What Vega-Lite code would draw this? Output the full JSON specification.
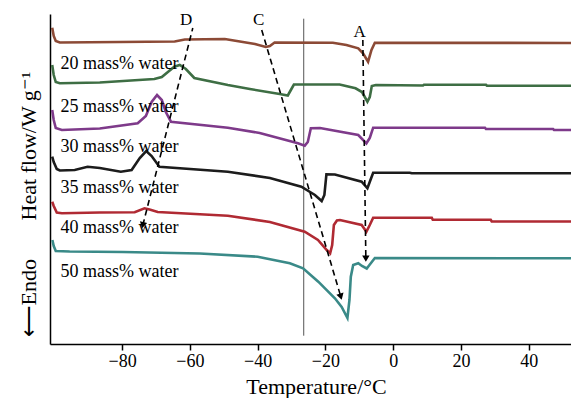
{
  "$schema": "https://vega.github.io/schema/vega-lite/v6.json",
  "autosize": "none",
  "width": 521,
  "height": 330,
  "padding": {"left": 50, "top": 14, "right": 0, "bottom": 54},
  "config": {"view": {"stroke": null}, "font": "Liberation Serif"},
  "datasets": {
    "curves": [
      {"s": "20", "t": -100.65, "h": 316.3}, {"s": "20", "t": -100.2, "h": 308}, {"s": "20", "t": -99.6, "h": 303}, {"s": "20", "t": -98.4, "h": 301.5}, {"s": "20", "t": -80.7, "h": 302}, {"s": "20", "t": -64.5, "h": 302.5}, {"s": "20", "t": -61.5, "h": 304.5}, {"s": "20", "t": -49.7, "h": 305}, {"s": "20", "t": -40.8, "h": 300}, {"s": "20", "t": -37.6, "h": 297}, {"s": "20", "t": -36.4, "h": 298}, {"s": "20", "t": -35.0, "h": 301.5}, {"s": "20", "t": -17.8, "h": 301.3}, {"s": "20", "t": -13.8, "h": 299}, {"s": "20", "t": -10.3, "h": 295.7}, {"s": "20", "t": -8.9, "h": 290.7}, {"s": "20", "t": -7.4, "h": 282.3}, {"s": "20", "t": -6.4, "h": 294}, {"s": "20", "t": -5.4, "h": 301.3}, {"s": "20", "t": 52.5, "h": 301},

      {"s": "25", "t": -100.65, "h": 279}, {"s": "25", "t": -100.2, "h": 269}, {"s": "25", "t": -99.6, "h": 262}, {"s": "25", "t": -98.4, "h": 260.7}, {"s": "25", "t": -86.6, "h": 261.5}, {"s": "25", "t": -70.5, "h": 265}, {"s": "25", "t": -68.3, "h": 267}, {"s": "25", "t": -66.5, "h": 272}, {"s": "25", "t": -64.6, "h": 277.3}, {"s": "25", "t": -63.0, "h": 279}, {"s": "25", "t": -61.2, "h": 275}, {"s": "25", "t": -58.7, "h": 266}, {"s": "25", "t": -48.8, "h": 259}, {"s": "25", "t": -42.3, "h": 255}, {"s": "25", "t": -33.5, "h": 250}, {"s": "25", "t": -31.1, "h": 248.5}, {"s": "25", "t": -30.2, "h": 254}, {"s": "25", "t": -29.3, "h": 259.5}, {"s": "25", "t": -15.8, "h": 259.5}, {"s": "25", "t": -11.1, "h": 255.7}, {"s": "25", "t": -9.2, "h": 252}, {"s": "25", "t": -7.6, "h": 242.3}, {"s": "25", "t": -6.9, "h": 247}, {"s": "25", "t": -6.3, "h": 258}, {"s": "25", "t": -5.1, "h": 259}, {"s": "25", "t": 8.8, "h": 258.5}, {"s": "25", "t": 9.1, "h": 259.3}, {"s": "25", "t": 27.4, "h": 259.3}, {"s": "25", "t": 27.7, "h": 258.3}, {"s": "25", "t": 52.5, "h": 258.3},

      {"s": "30", "t": -100.65, "h": 234}, {"s": "30", "t": -100.2, "h": 224}, {"s": "30", "t": -99.6, "h": 216}, {"s": "30", "t": -97.8, "h": 214}, {"s": "30", "t": -86.6, "h": 215.5}, {"s": "30", "t": -75.4, "h": 220.7}, {"s": "30", "t": -73.0, "h": 228}, {"s": "30", "t": -71.3, "h": 242}, {"s": "30", "t": -69.7, "h": 249}, {"s": "30", "t": -68.3, "h": 244}, {"s": "30", "t": -67.1, "h": 232}, {"s": "30", "t": -65.6, "h": 222.3}, {"s": "30", "t": -48.8, "h": 216.3}, {"s": "30", "t": -39.4, "h": 211}, {"s": "30", "t": -28.1, "h": 200.7}, {"s": "30", "t": -26.1, "h": 198.3}, {"s": "30", "t": -25.2, "h": 202}, {"s": "30", "t": -24.3, "h": 215.7}, {"s": "30", "t": -21.6, "h": 216}, {"s": "30", "t": -10.3, "h": 209}, {"s": "30", "t": -7.9, "h": 200.7}, {"s": "30", "t": -6.9, "h": 206}, {"s": "30", "t": -5.9, "h": 216.3}, {"s": "30", "t": 27.1, "h": 216.3}, {"s": "30", "t": 27.4, "h": 215}, {"s": "30", "t": 47.2, "h": 215}, {"s": "30", "t": 47.5, "h": 214}, {"s": "30", "t": 52.5, "h": 214},

      {"s": "35", "t": -100.65, "h": 187.3}, {"s": "35", "t": -100.2, "h": 182}, {"s": "35", "t": -99.3, "h": 175}, {"s": "35", "t": -98.4, "h": 173.5}, {"s": "35", "t": -94.0, "h": 174}, {"s": "35", "t": -90.2, "h": 177.3}, {"s": "35", "t": -86.6, "h": 176}, {"s": "35", "t": -80.4, "h": 172.3}, {"s": "35", "t": -77.2, "h": 174}, {"s": "35", "t": -74.8, "h": 186}, {"s": "35", "t": -72.9, "h": 193}, {"s": "35", "t": -71.3, "h": 188}, {"s": "35", "t": -69.0, "h": 177.3}, {"s": "35", "t": -48.8, "h": 172.3}, {"s": "35", "t": -36.4, "h": 166}, {"s": "35", "t": -27.1, "h": 157.3}, {"s": "35", "t": -23.1, "h": 149}, {"s": "35", "t": -21.1, "h": 143}, {"s": "35", "t": -20.3, "h": 149}, {"s": "35", "t": -19.7, "h": 169.7}, {"s": "35", "t": -17.2, "h": 169.5}, {"s": "35", "t": -9.3, "h": 162.3}, {"s": "35", "t": -7.6, "h": 155.7}, {"s": "35", "t": -6.7, "h": 164}, {"s": "35", "t": -5.9, "h": 171.3}, {"s": "35", "t": 4.9, "h": 171.3}, {"s": "35", "t": 5.5, "h": 170.7}, {"s": "35", "t": 52.5, "h": 170.7},

      {"s": "40", "t": -100.65, "h": 142.3}, {"s": "40", "t": -100.2, "h": 138}, {"s": "40", "t": -99.3, "h": 131.5}, {"s": "40", "t": -97.8, "h": 130.7}, {"s": "40", "t": -86.6, "h": 131.5}, {"s": "40", "t": -76.3, "h": 131.7}, {"s": "40", "t": -73.4, "h": 135.7}, {"s": "40", "t": -71.9, "h": 134.5}, {"s": "40", "t": -69.5, "h": 132}, {"s": "40", "t": -48.8, "h": 128.3}, {"s": "40", "t": -36.4, "h": 122}, {"s": "40", "t": -26.1, "h": 112.3}, {"s": "40", "t": -22.2, "h": 104}, {"s": "40", "t": -19.6, "h": 94}, {"s": "40", "t": -18.6, "h": 90.7}, {"s": "40", "t": -18.0, "h": 99}, {"s": "40", "t": -17.5, "h": 119}, {"s": "40", "t": -16.6, "h": 123.5}, {"s": "40", "t": -15.7, "h": 124}, {"s": "40", "t": -9.3, "h": 119}, {"s": "40", "t": -7.9, "h": 112.3}, {"s": "40", "t": -6.9, "h": 119}, {"s": "40", "t": -5.9, "h": 126.3}, {"s": "40", "t": 11.4, "h": 126.3}, {"s": "40", "t": 11.7, "h": 124.2}, {"s": "40", "t": 28.8, "h": 124.2}, {"s": "40", "t": 29.1, "h": 122.5}, {"s": "40", "t": 52.5, "h": 122.5},

      {"s": "50", "t": -100.6, "h": 104}, {"s": "50", "t": -100.2, "h": 98}, {"s": "50", "t": -99.6, "h": 93}, {"s": "50", "t": -95.5, "h": 92.5}, {"s": "50", "t": -79.8, "h": 92}, {"s": "50", "t": -57.1, "h": 90.5}, {"s": "50", "t": -40.0, "h": 87.3}, {"s": "50", "t": -30.5, "h": 80.7}, {"s": "50", "t": -26.6, "h": 75.7}, {"s": "50", "t": -22.1, "h": 62.3}, {"s": "50", "t": -17.2, "h": 45.7}, {"s": "50", "t": -15.2, "h": 37}, {"s": "50", "t": -13.5, "h": 26}, {"s": "50", "t": -12.9, "h": 44}, {"s": "50", "t": -12.5, "h": 67.3}, {"s": "50", "t": -11.8, "h": 79}, {"s": "50", "t": -10.3, "h": 80.7}, {"s": "50", "t": -9.2, "h": 78}, {"s": "50", "t": -7.8, "h": 75.5}, {"s": "50", "t": -7.0, "h": 79}, {"s": "50", "t": -5.4, "h": 86}, {"s": "50", "t": 52.5, "h": 85.7}
    ],
    "labels": [
      {"text": "20 mass% water", "t": -98.2, "h": 275},
      {"text": "25 mass% water", "t": -98.2, "h": 232.3},
      {"text": "30 mass% water", "t": -98.2, "h": 192.3},
      {"text": "35 mass% water", "t": -98.2, "h": 151.3},
      {"text": "40 mass% water", "t": -98.2, "h": 110.7},
      {"text": "50 mass% water", "t": -98.2, "h": 67.3}
    ],
    "letters": [
      {"text": "D", "t": -61.1, "h": 319},
      {"text": "C", "t": -39.7, "h": 319},
      {"text": "A", "t": -9.9, "h": 306.7}
    ],
    "arrows": [
      {"id": "D", "t": -59.15, "h": 316}, {"id": "D", "t": -73.9, "h": 118.8},
      {"id": "C", "t": -38.8, "h": 314}, {"id": "C", "t": -15.45, "h": 47.3},
      {"id": "A", "t": -8.95, "h": 304}, {"id": "A", "t": -8.06, "h": 85.4}
    ],
    "heads": [
      {"id": "D", "t": -73.9, "h": 118.8},
      {"id": "C", "t": -15.45, "h": 47.3},
      {"id": "A", "t": -8.06, "h": 85.4}
    ],
    "vline": [{"t": -26.4, "h1": 8.3, "h2": 325.3}]
  },
  "layer": [
    {
      "data": {"name": "vline"},
      "mark": {"type": "rule", "color": "#555555", "strokeWidth": 1},
      "encoding": {
        "x": {"field": "t", "type": "quantitative",
          "scale": {"domain": [-101.3, 52.5], "nice": false, "zero": false},
          "axis": {"title": "Temperature/°C", "values": [-80, -60, -40, -20, 0, 20, 40],
            "grid": false, "domainColor": "black", "domainWidth": 1.5, "tickColor": "black", "tickWidth": 1.5, "tickSize": 6,
            "labelFont": "Liberation Serif", "labelFontSize": 18, "labelColor": "black", "labelPadding": 2,
            "titleFont": "Liberation Serif", "titleFontSize": 22, "titleFontWeight": "normal", "titleColor": "black",
            "titleX": 266, "titleY": 49, "titleBaseline": "alphabetic", "titleAlign": "center"}},
        "y": {"field": "h1", "type": "quantitative",
          "scale": {"domain": [0, 330], "nice": false, "zero": false},
          "axis": {"title": "⟵Endo\u00a0\u00a0\u00a0\u00a0\u00a0\u00a0\u00a0Heat flow/W g⁻¹", "ticks": false, "labels": false, "grid": false,
            "domainColor": "black", "domainWidth": 1.5,
            "titleFont": "Liberation Serif", "titleFontSize": 22, "titleFontWeight": "normal", "titleColor": "black",
            "titleX": -15, "titleY": 190, "titleBaseline": "alphabetic", "titleAlign": "center", "titleAngle": -90}},
        "y2": {"field": "h2"}
      }
    },
    {
      "data": {"name": "curves"},
      "mark": {"type": "line", "strokeWidth": 2.6, "interpolate": "linear"},
      "encoding": {
        "x": {"field": "t", "type": "quantitative"},
        "y": {"field": "h", "type": "quantitative"},
        "color": {"field": "s", "type": "nominal", "legend": null,
          "scale": {"domain": ["20", "25", "30", "35", "40", "50"],
            "range": ["#8c4a36", "#3e6e44", "#7e3a8a", "#1c1c1c", "#b02a33", "#3a8a88"]}}
      }
    },
    {
      "data": {"name": "arrows"},
      "mark": {"type": "line", "color": "black", "strokeWidth": 1.6, "strokeDash": [6, 4]},
      "encoding": {
        "x": {"field": "t", "type": "quantitative"},
        "y": {"field": "h", "type": "quantitative"},
        "detail": {"field": "id"}
      }
    },
    {
      "data": {"name": "heads"},
      "transform": [{"filter": "datum.id === 'D'"}],
      "mark": {"type": "point", "shape": "triangle-down", "filled": true, "color": "black", "opacity": 1, "size": 55, "angle": 14},
      "encoding": {"x": {"field": "t", "type": "quantitative"}, "y": {"field": "h", "type": "quantitative"}}
    },
    {
      "data": {"name": "heads"},
      "transform": [{"filter": "datum.id === 'C'"}],
      "mark": {"type": "point", "shape": "triangle-down", "filled": true, "color": "black", "opacity": 1, "size": 55, "angle": -16},
      "encoding": {"x": {"field": "t", "type": "quantitative"}, "y": {"field": "h", "type": "quantitative"}}
    },
    {
      "data": {"name": "heads"},
      "transform": [{"filter": "datum.id === 'A'"}],
      "mark": {"type": "point", "shape": "triangle-down", "filled": true, "color": "black", "opacity": 1, "size": 55, "angle": 0},
      "encoding": {"x": {"field": "t", "type": "quantitative"}, "y": {"field": "h", "type": "quantitative"}}
    },
    {
      "data": {"name": "labels"},
      "mark": {"type": "text", "align": "left", "baseline": "alphabetic", "font": "Liberation Serif", "fontSize": 18, "color": "black"},
      "encoding": {
        "x": {"field": "t", "type": "quantitative"},
        "y": {"field": "h", "type": "quantitative"},
        "text": {"field": "text"}
      }
    },
    {
      "data": {"name": "letters"},
      "mark": {"type": "text", "align": "center", "baseline": "alphabetic", "font": "Liberation Serif", "fontSize": 17, "color": "black"},
      "encoding": {
        "x": {"field": "t", "type": "quantitative"},
        "y": {"field": "h", "type": "quantitative"},
        "text": {"field": "text"}
      }
    }
  ]
}
